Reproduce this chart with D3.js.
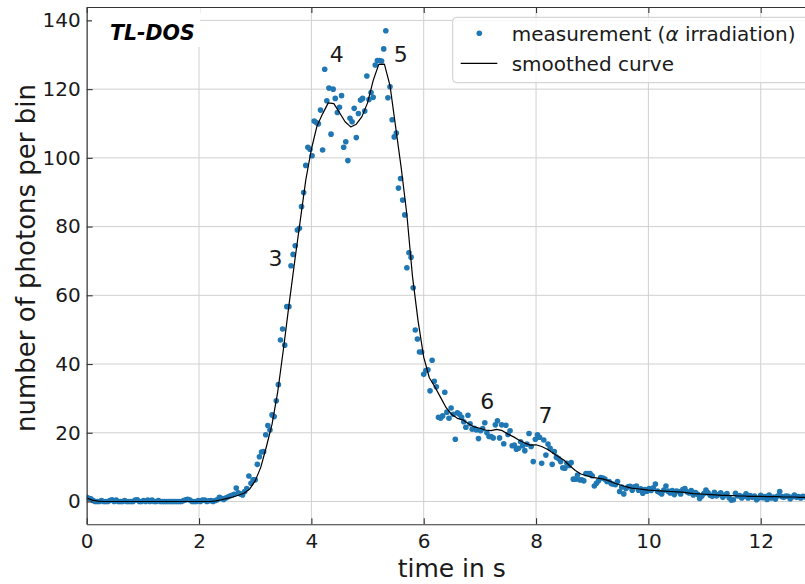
<!DOCTYPE html>
<html>
<head>
<meta charset="utf-8">
<script src="https://cdn.jsdelivr.net/npm/d3@7"></script>
<style>
  html, body { margin: 0; padding: 0; background: #ffffff; }
  svg { display: block; font-family: "DejaVu Sans", sans-serif; }
</style>
</head>
<body>
<svg id="chart" width="805" height="584"></svg>
<script>
// Photon counts per time bin of the TL-DOS readout (bin width in seconds)
const binWidth = 0.0375;
const measuredCounts = [
  1.2, 0.9, 0.8, 0.3, 0, 0, 0, 0.3, 0, 0,
  0, 0.3, 0.5, 0, 0.4, 0, 0, 0, 0.3, 0,
  0, 0, 0, 0.4, 0.5, 0, 0, 0.3, 0, 0.4,
  0, 0.4, 0, 0, 0.3, 0, 0, 0, 0, 0,
  0, 0, 0, 0, 0, 0, 0.3, 0.5, 0.6, 0.4,
  0, 0, 0, 0.3, 0, 0.4, 0.4, 0, 0.2, 0.3,
  0, 0.3,
  0.5, 1.2, 0.9, 0.6, 1.0, 1.3, 1.6, 1.8, 2.1, 3.9, 2.5, 2.2, 1.9, 2.9, 3.8,
  7.4, 5.3, 6.3, 6.3, 10.8, 13.0, 14.4, 14.5, 19.4, 22.1,
  20.8, 25.2, 24.7, 29.3, 34.0, 47.0, 50.2, 45.5, 56.7, 56.7,
  68.6, 71.9, 74.4, 79.0, 79.5, 85.8, 89.9, 97.8, 103.1, 102.5,
  100.6, 110.7, 110.3, 109.9, 113.9, 102.3, 125.8, 116.6, 120.3, 106.9,
  120.0, 117.3, 113.2, 114.7, 118.1, 103.1, 104.7, 99.2, 111.5, 110.5,
  114.4, 105.9, 112.9, 116.8, 117.3, 113.6, 123.8, 117.0, 119.0, 117.6,
  127.0, 128.3, 128.3, 128.2, 131.7, 137.0, 117.5, 120.7, 111.1, 106.1,
  107.2, 91.2, 94.0, 87.7,
  83.4, 68.0, 72.4, 71.1, 62.2, 49.9, 47.3, 43.5, 43.5, 37.0,
  38.1, 38.3, 32.2, 41.1, 35.0, 33.4, 24.5, 24.2, 24.9, 31.8,
  26.0, 24.2, 27.2, 25.4, 18.1, 25.8, 25.4, 24.5, 23.2, 21.6,
  25.1, 22.6, 21.0, 21.3, 20.8, 18.3, 20.6, 21.2, 22.9, 20.0,
  18.9, 18.9, 18.5, 22.3, 23.5, 18.5, 22.3, 16.8, 22.2, 19.5,
  20.6, 16.2, 16.4, 15.2, 15.5, 17.4, 16.2, 14.8, 16.7, 19.8,
  16.0, 11.6, 18.1, 19.4, 18.7, 11.1, 17.9, 13.5, 16.7, 15.5,
  10.8, 14.5, 12.9, 12.5, 11.6, 9.8, 9.7, 11.1, 10.5, 11.3,
  6.5, 6.5, 7.7, 6.3, 6.3, 6.0, 8.1, 8.1, 8.1, 7.5,
  4.5, 5.3, 6.0, 7.0, 6.8, 6.5, 5.8, 5.8, 5.2, 5.0,
  4.9, 5.8, 2.9, 4.2, 2.2, 3.8, 4.3, 4.4, 3.3, 4.3,
  4.5, 3.3, 3.7, 2.4, 3.5, 3.0, 3.8, 3.2, 4.0, 5.1,
  3.0, 2.6, 2.2, 3.3, 4.5, 3.0, 2.5, 3.2, 2.0, 3.0,
  2.9, 2.2, 3.5, 3.8, 2.8, 2.5, 3.2, 1.9, 2.6, 2.1,
  0.9, 1.5, 2.3, 3.3, 2.5, 1.8, 1.5, 2.7, 1.6, 2.0,
  2.5, 1.2, 1.9, 2.3, 1.1, 0.4, 0.5, 2.4, 1.6, 1.7,
  1.0, 1.5, 2.2, 1.0, 1.7, 1.2, 1.6, 0.5, 1.0, 1.8,
  1.1, 1.4, 0.6, 1.9, 1.0, 1.3, 0.7, 1.6, 2.9, 1.4,
  1.2, 1.6, 1.5, 0.8, 1.3, 1.9, 1.2, 1.4, 1.0, 1.5,
  1.3
];

// Smoothed curve, sampled every 0.1 s
const smoothStep = 0.1;
const smoothedCounts = [
  1.0, 0.4, 0.1, 0, 0, 0, 0, 0, 0, 0,
  0, 0, 0, 0, 0, 0, 0, 0, 0, 0,
  0, 0, 0, 0.2, 0.5, 0.9, 1.3, 1.8, 2.4, 3.6,
  6.0, 10.0, 16.0, 22.5, 31.8, 44.0, 57.0, 69.5, 81.5, 93.5,
  102.5, 109.3, 112.8, 116.0, 115.8, 113.2, 110.5, 109.0, 109.8, 112.0,
  116.0, 122.5, 127.2, 127.3, 121.0, 109.0, 97.0, 83.5, 65.5, 52.5,
  42.0, 36.0, 33.3, 30.3, 27.3, 25.3, 24.2, 23.7, 22.6, 21.7,
  21.3, 20.8, 20.6, 21.0, 20.6, 19.6, 18.8, 17.8, 17.0, 16.4,
  16.5, 16.0, 15.2, 14.1, 13.0, 12.0, 10.4, 9.0, 8.0, 7.5,
  7.0, 6.8, 6.5, 6.0, 5.3, 4.8, 4.3, 3.9, 3.7, 3.5,
  3.3, 3.2, 3.1, 3.0, 2.9, 2.8, 2.7, 2.5, 2.3, 2.2,
  2.1, 2.0, 1.9, 1.8, 1.8, 1.7, 1.6, 1.6, 1.5, 1.5,
  1.5, 1.4, 1.4, 1.4, 1.3, 1.3, 1.3, 1.2, 1.2
];

const xTicks = [0, 2, 4, 6, 8, 10, 12];
const yTicks = [0, 20, 40, 60, 80, 100, 120, 140];

// Glow-peak numbers written next to the curve
const peakNames = ["3", "4", "5", "6", "7"];
const peakTime = [3.36, 4.45, 5.59, 7.13, 8.17];
const peakHeight = [70.6, 130, 130, 29, 24.9];

const measurement = measuredCounts.map((v, i) => ({ t: i * binWidth, v }));
const smoothed = smoothedCounts.map((v, i) => ({ t: i * smoothStep, v }));

const svg = d3.select("#chart");
const plot = { left: 86.7, right: 816.9, top: 7, bottom: 524.3 };

const x = d3.scaleLinear().domain([0, 13]).range([plot.left, plot.right]);
const y = d3.scaleLinear().domain([-6.64, 143.9]).range([plot.bottom, plot.top]);

const blue = "#1f77b4";
const spineColor = "#333333";
const gridColor = "#d0d0d0";
const textColor = "#1a1a1a";

svg.append("defs").append("clipPath").attr("id", "plotArea")
  .append("rect")
  .attr("x", plot.left).attr("y", plot.top)
  .attr("width", plot.right - plot.left).attr("height", plot.bottom - plot.top);

// grid
const grid = svg.append("g");
grid.selectAll("line.gx").data(xTicks).join("line")
  .attr("x1", d => x(d)).attr("x2", d => x(d))
  .attr("y1", plot.top).attr("y2", plot.bottom)
  .attr("stroke", gridColor).attr("stroke-width", 1);
grid.selectAll("line.gy").data(yTicks).join("line")
  .attr("x1", plot.left).attr("x2", plot.right)
  .attr("y1", d => y(d)).attr("y2", d => y(d))
  .attr("stroke", gridColor).attr("stroke-width", 1);

// measured points
const data = svg.append("g").attr("clip-path", "url(#plotArea)");
data.selectAll("circle").data(measurement).join("circle")
  .attr("cx", d => x(d.t)).attr("cy", d => y(d.v))
  .attr("r", 2.8).attr("fill", blue);

// smoothed curve
data.append("path").datum(smoothed)
  .attr("fill", "none").attr("stroke", "#000").attr("stroke-width", 1.2)
  .attr("stroke-linejoin", "round")
  .attr("d", d3.line().x(d => x(d.t)).y(d => y(d.v)));

// axes with inward ticks on all sides
function styleAxis(g) {
  g.selectAll(".domain").attr("stroke", spineColor).attr("stroke-width", 1.1);
  g.selectAll(".tick line").attr("stroke", spineColor).attr("stroke-width", 1.1);
  g.selectAll(".tick text").attr("fill", textColor).attr("font-size", 20)
    .attr("font-family", "DejaVu Sans");
}
svg.append("g").attr("transform", `translate(0,${plot.bottom})`)
  .call(d3.axisBottom(x).tickValues(xTicks).tickSize(-6).tickSizeOuter(0)
    .tickPadding(9.5).tickFormat(d3.format("d")))
  .call(styleAxis);
svg.append("g").attr("transform", `translate(0,${plot.top})`)
  .call(d3.axisTop(x).tickValues(xTicks).tickSize(-6).tickSizeOuter(0).tickFormat(""))
  .call(styleAxis);
svg.append("g").attr("transform", `translate(${plot.left},0)`)
  .call(d3.axisLeft(y).tickValues(yTicks).tickSize(-6).tickSizeOuter(0)
    .tickPadding(6).tickFormat(d3.format("d")))
  .call(styleAxis);
svg.append("g").attr("transform", `translate(${plot.right},0)`)
  .call(d3.axisRight(y).tickValues(yTicks).tickSize(-6).tickSizeOuter(0).tickFormat(""))
  .call(styleAxis);

// peak numbers
svg.append("g").selectAll("text").data(peakNames).join("text")
  .attr("x", (d, i) => x(peakTime[i])).attr("y", (d, i) => y(peakHeight[i]))
  .attr("text-anchor", "middle").attr("dominant-baseline", "central")
  .attr("font-size", 22).attr("fill", textColor)
  .text(d => d);

// axis titles
svg.append("text")
  .attr("x", (plot.left + plot.right) / 2).attr("y", 577)
  .attr("text-anchor", "middle").attr("font-size", 25).attr("fill", textColor)
  .text("time in s");
svg.append("text")
  .attr("transform", `translate(35,258) rotate(-90)`)
  .attr("text-anchor", "middle").attr("font-size", 26).attr("fill", textColor)
  .text("number of photons per bin");

// device tag
svg.append("rect").attr("x", 92).attr("y", 8).attr("width", 108).attr("height", 39)
  .attr("fill", "#ffffff");
svg.append("text").attr("x", 110).attr("y", 40)
  .attr("font-size", 20.5).attr("font-weight", "bold").attr("font-style", "italic")
  .attr("fill", "#000").text("TL-DOS");

// legend
const legend = svg.append("g");
legend.append("rect").attr("x", 452.7).attr("y", 17.3).attr("width", 360).attr("height", 65.4)
  .attr("rx", 4).attr("fill", "#ffffff").attr("fill-opacity", 0.8)
  .attr("stroke", "#cccccc").attr("stroke-width", 1);
legend.append("circle").attr("cx", 479.3).attr("cy", 33.3).attr("r", 2.8).attr("fill", blue);
const t1 = legend.append("text").attr("x", 511.7).attr("y", 41)
  .attr("font-size", 20).attr("fill", textColor);
t1.append("tspan").text("measurement (");
t1.append("tspan").attr("font-style", "italic").text("α");
t1.append("tspan").text(" irradiation)");
legend.append("line").attr("x1", 460.7).attr("x2", 497.3).attr("y1", 63.3).attr("y2", 63.3)
  .attr("stroke", "#000").attr("stroke-width", 1.2);
legend.append("text").attr("x", 511.7).attr("y", 70.5)
  .attr("font-size", 20).attr("fill", textColor).text("smoothed curve");
</script>
</body>
</html>
